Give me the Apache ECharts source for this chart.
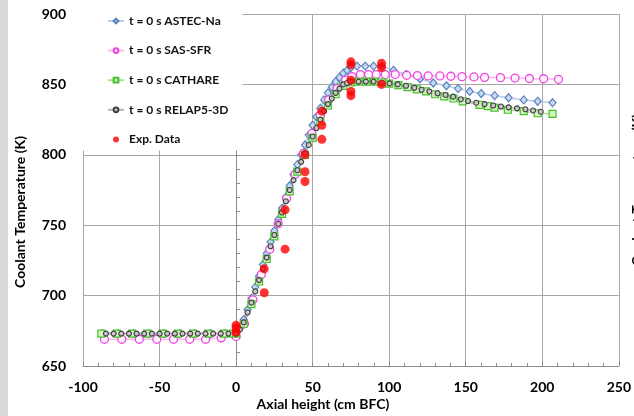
<!DOCTYPE html>
<html>
<head>
<meta charset="utf-8">
<script src="https://cdn.jsdelivr.net/npm/echarts@6/dist/echarts.min.js"></script>
<style>html,body{margin:0;padding:0;background:#fff;}#chart{width:634px;height:416px;}</style>
</head>
<body>
<div id="chart"></div>
<script>
// Axis ticks
var xTicks = [-100, -50, 0, 50, 100, 150, 200, 250];
var yTicks = [650, 700, 750, 800, 850, 900];
var seriesNames = ['t = 0 s ASTEC-Na', 't = 0 s SAS-SFR', 't = 0 s CATHARE', 't = 0 s RELAP5-3D', 'Exp. Data'];

// [axial height (cm BFC), coolant temperature (K)]
var astec = [[-87,673],[-77,673],[-67,673],[-57,673],[-47,673],[-37,673],[-27,673],[-17,673],[-7,673],[-2,673],
  [0,673],[2.5,677],[5,683],[7.5,690],[10,698],[12.5,706],[15,714],[17.5,722],[20,730],[22.5,738],[25,746],[27.5,754],
  [30,762],[32.5,770],[35,778],[37.5,786],[40,793],[42.5,800],[45,807],[47.5,814],[50,821],[52.5,827],[55,833],
  [57.5,839],[60,844],[62.5,848],[65,852],[67.5,855],[70,858],[72.5,860],[75,862],[79,863],[84.4,863],[89.8,863],
  [95.2,863],[102.8,860],[111,857],[120.1,854],[128.8,851],[137.4,849],[145,847],[152.6,845],[160.1,843.5],
  [168.9,842],[178,840.5],[187.9,839],[197,838],[206.7,837]];

var sas = [[-86,669],[-74.7,669],[-63.2,669],[-51.8,669],[-40.9,669],[-30.3,669],[-19.9,669],[-9.7,670],
  [0,671],[5.5,680],[11,697],[16.5,715],[22,733],[27.5,751],[33,769],[38.5,786],[44,801],[49.5,815],[55,828],
  [60.5,839],[66,847],[71.5,853],[75.7,855.5],[81.2,857],[86.6,857],[91.6,857],[97.4,857],[103.9,857],[111.4,856.5],
  [118.4,856.3],[125.5,856],[133.1,856],[140.3,855.8],[147.6,855.5],[155.4,855.3],[162.3,855],[172.7,854.8],
  [182.2,854.5],[191.6,854.2],[200.9,854],[210.6,853.6]];

var cathare = [[-88,673],[-78,673],[-68,673],[-58,673],[-48,673],[-38,673],[-28,673],[-18,673],[-8,673],[-2,673],
  [0,673],[5,680],[10,694],[15,710],[20,726],[25,742],[30,758],[35,774],[40,788],[45,800],[50,812],[55,824],
  [60,835],[65,843],[70,849],[75,851.5],[80,852],[85,852],[90,852],[95,851.5],[100,850.5],[106,849.5],[112,848],
  [118,846.5],[124,845],[130,843],[136,841.5],[142,840],[148,838],[159,835.5],[164.5,834.5],[168.8,833.5],
  [177.5,832],[187.9,831],[197,829.5],[206.7,829]];

var relap = [[-85,673],[-80,673],[-75,673],[-70,673],[-65,673],[-60,673],[-55,673],[-50,673],[-45,673],[-40,673],
  [-35,673],[-30,673],[-25,673],[-20,673],[-15,673],[-10,673],[-5,673],
  [0,673],[2.5,676],[5,681],[7.5,688],[10,695],[12.5,703],[15,711],[17.5,719],[20,727],[22.5,735],[25,743],
  [27.5,751],[30,759],[32.5,767],[35,775],[37.5,782],[40,789],[42.5,795],[45,801],[47.5,807],[50,813],[52.5,819],
  [55,825],[57.5,831],[60,836],[62.5,840],[65,844],[67.5,847],[70,850],[72.5,851],[75,852],[80,852],[84.8,852],
  [89.8,852],[95.2,851.2],[100.2,850.7],[105.6,850],[111,849],[116.4,847.6],[121.2,846.2],[126.2,845],
  [131.6,843.7],[136.8,842.5],[141.8,841.3],[146.8,839.5],[151.5,838.2],[156.9,837],[162.3,836],[168,835],
  [173,834.3],[178,833.7],[183.5,833],[189,832.3],[194,831.5],[199,830.6]];

var expData = [[0,674],[0,677],[0,679],[18.4,719],[18.4,702],[32,761],[32,733],[45,800],[45,788],[45,781],
  [56,831],[56,821],[56,811],[75,866],[75,864],[75,853],[75,845],[75,842],[95,865],[95,862],[95,850]];

var FONT = 'Lato';
var chart = echarts.init(document.getElementById('chart'), null, {renderer: 'canvas'});
var axisLabelStyle = {color: '#000', fontSize: 14, fontWeight: 'bold', fontFamily: FONT};
var option = {
  backgroundColor: '#fff',
  animation: false,
  grid: {left: 83, right: 13, top: 14, bottom: 50, containLabel: false},
  xAxis: {
    type: 'value', min: xTicks[0], max: xTicks[xTicks.length - 1], interval: 50,
    axisLine: {show: true, lineStyle: {color: '#8c8c8c', width: 1}},
    axisTick: {show: true, inside: true, length: 4, lineStyle: {color: '#8c8c8c'}},
    minorTick: {show: true, splitNumber: 5, length: 3, lineStyle: {color: '#8c8c8c'}},
    axisLabel: Object.assign({margin: 14}, axisLabelStyle),
    splitLine: {show: true, lineStyle: {color: '#a6a6a6', width: 1}}
  },
  yAxis: {
    type: 'value', min: yTicks[0], max: yTicks[yTicks.length - 1], interval: 50,
    axisLine: {show: true, lineStyle: {color: '#8c8c8c', width: 1}},
    axisTick: {show: true, inside: true, length: 4, lineStyle: {color: '#8c8c8c'}},
    minorTick: {show: true, splitNumber: 5, length: 4, lineStyle: {color: '#8c8c8c'}},
    axisLabel: Object.assign({margin: 17}, axisLabelStyle),
    splitLine: {show: true, lineStyle: {color: '#a6a6a6', width: 1}}
  },
  legend: {
    orient: 'vertical', left: 83, top: 5,
    padding: [10, 14, 5, 24], itemGap: 17.6, itemWidth: 16, itemHeight: 6,
    backgroundColor: '#fff',
    textStyle: {color: '#111', fontSize: 12, fontWeight: 'bold', fontFamily: FONT},
    data: seriesNames
  },
  graphic: [
    {type: 'rect', left: 0, top: 0, shape: {x: 0, y: 0, width: 8, height: 416}, style: {fill: '#d9d9d9'}, z: 100},
    {type: 'text', x: 20, y: 212, rotation: Math.PI / 2,
      style: {text: 'Coolant Temperature (K)', x: 0, y: 0, align: 'center', verticalAlign: 'middle',
        fontSize: 14, fontWeight: 'bold', fontFamily: FONT, fill: '#000'}},
    {type: 'text', x: 323, y: 404,
      style: {text: 'Axial height (cm BFC)', x: 0, y: 0, align: 'center', verticalAlign: 'middle',
        fontSize: 14, fontWeight: 'bold', fontFamily: FONT, fill: '#000'}},
    {type: 'text', x: 637, y: 190, rotation: Math.PI / 2,
      style: {text: 'Coolant Temperature (K)', x: 0, y: 0, align: 'center', verticalAlign: 'middle',
        fontSize: 14, fontWeight: 'bold', fontFamily: FONT, fill: '#000'}}
  ],
  series: [
    {name: seriesNames[0], type: 'line', data: astec, symbol: 'diamond', symbolSize: [7, 8],
      lineStyle: {color: '#b3cbee', width: 1.5},
      itemStyle: {color: '#c9d9f2', borderColor: '#5a82bd', borderWidth: 1.2}},
    {name: seriesNames[1], type: 'line', data: sas, symbol: 'circle', symbolSize: 8,
      lineStyle: {color: '#ffb8f2', width: 1.5},
      itemStyle: {color: '#fff4fd', borderColor: '#ee46de', borderWidth: 1.3}},
    {name: seriesNames[2], type: 'line', data: cathare, symbol: 'rect', symbolSize: 7,
      lineStyle: {color: '#a9e48a', width: 1.5},
      itemStyle: {color: '#d2f4bd', borderColor: '#48c030', borderWidth: 1.2}},
    {name: seriesNames[3], type: 'line', data: relap, symbol: 'circle', symbolSize: 5,
      lineStyle: {color: '#b5b5b5', width: 1.5},
      itemStyle: {color: '#c8c8c8', borderColor: '#3f3f3f', borderWidth: 1.1}},
    {name: seriesNames[4], type: 'scatter', data: expData, symbol: 'circle', symbolSize: 9,
      itemStyle: {color: '#ff0000'}, z: 5}
  ]
};
chart.setOption(option);
</script>
</body>
</html>
